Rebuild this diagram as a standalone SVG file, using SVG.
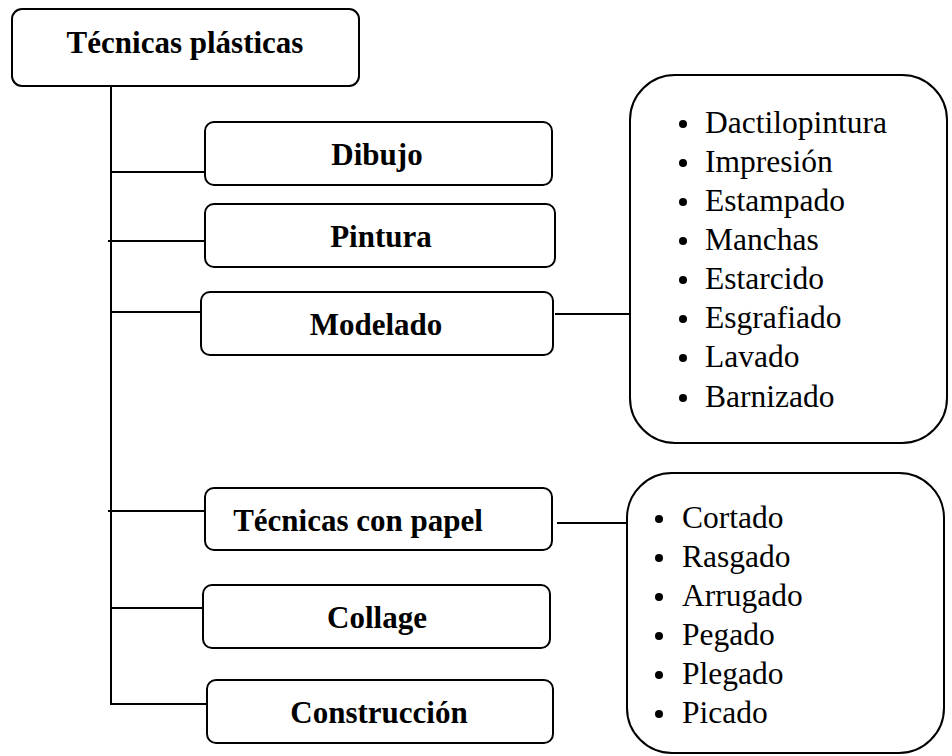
<svg xmlns="http://www.w3.org/2000/svg" width="952" height="756" viewBox="0 0 952 756">
<style>
.box{fill:#fff;stroke:#000;stroke-width:2}
.ln{stroke:#000;stroke-width:2;fill:none}
.t{font-family:"Liberation Serif","Times New Roman",serif;font-weight:bold;font-size:31px;fill:#000;text-anchor:middle}
.li{font-family:"Liberation Serif","Times New Roman",serif;font-size:31.5px;fill:#000}
.b{fill:#000}
</style>
<rect width="952" height="756" fill="#fff"/>
<g id="connectors">
<path class="ln" d="M111 86 V704 H207"/>
<path class="ln" d="M111 172 H205"/>
<path class="ln" d="M108 241 H205"/>
<path class="ln" d="M111 312 H205"/>
<path class="ln" d="M108 511 H205"/>
<path class="ln" d="M111 608 H205"/>
<path class="ln" d="M555 314 H630"/>
<path class="ln" d="M557 523 H627"/>
</g>
<g id="root"><rect class="box" x="12" y="9" width="347" height="77" rx="10"/><text class="t" x="185" y="53">Técnicas plásticas</text></g>
<g id="dibujo"><rect class="box" x="205" y="122" width="347" height="63" rx="9"/><text class="t" x="377" y="165">Dibujo</text></g>
<g id="pintura"><rect class="box" x="205" y="204" width="350" height="63" rx="9"/><text class="t" x="381" y="247">Pintura</text></g>
<g id="modelado"><rect class="box" x="201" y="292" width="352" height="63" rx="9"/><text class="t" x="376" y="335">Modelado</text></g>
<g id="papel"><rect class="box" x="205" y="488" width="347" height="62" rx="9"/><text class="t" x="358" y="531">Técnicas con papel</text></g>
<g id="collage"><rect class="box" x="203" y="585" width="347" height="63" rx="9"/><text class="t" x="377" y="628">Collage</text></g>
<g id="construccion"><rect class="box" x="207" y="680" width="346" height="63" rx="9"/><text class="t" x="379" y="723">Construcción</text></g>
<g id="lista1"><rect class="box" x="630" y="75" width="317" height="368" rx="45"/>
<circle class="b" cx="683" cy="124" r="4"/><text class="li" x="705" y="133">Dactilopintura</text>
<circle class="b" cx="683" cy="163" r="4"/><text class="li" x="705" y="172">Impresión</text>
<circle class="b" cx="683" cy="202" r="4"/><text class="li" x="705" y="211">Estampado</text>
<circle class="b" cx="683" cy="241" r="4"/><text class="li" x="705" y="250">Manchas</text>
<circle class="b" cx="683" cy="280" r="4"/><text class="li" x="705" y="289">Estarcido</text>
<circle class="b" cx="683" cy="319" r="4"/><text class="li" x="705" y="328">Esgrafiado</text>
<circle class="b" cx="683" cy="358" r="4"/><text class="li" x="705" y="367">Lavado</text>
<circle class="b" cx="683" cy="398" r="4"/><text class="li" x="705" y="407">Barnizado</text>
</g>
<g id="lista2"><rect class="box" x="627" y="473" width="317" height="280" rx="45"/>
<circle class="b" cx="659" cy="519" r="4"/><text class="li" x="682" y="528">Cortado</text>
<circle class="b" cx="659" cy="558" r="4"/><text class="li" x="682" y="567">Rasgado</text>
<circle class="b" cx="659" cy="597" r="4"/><text class="li" x="682" y="606">Arrugado</text>
<circle class="b" cx="659" cy="636" r="4"/><text class="li" x="682" y="645">Pegado</text>
<circle class="b" cx="659" cy="675" r="4"/><text class="li" x="682" y="684">Plegado</text>
<circle class="b" cx="659" cy="714" r="4"/><text class="li" x="682" y="723">Picado</text>
</g>
</svg>
